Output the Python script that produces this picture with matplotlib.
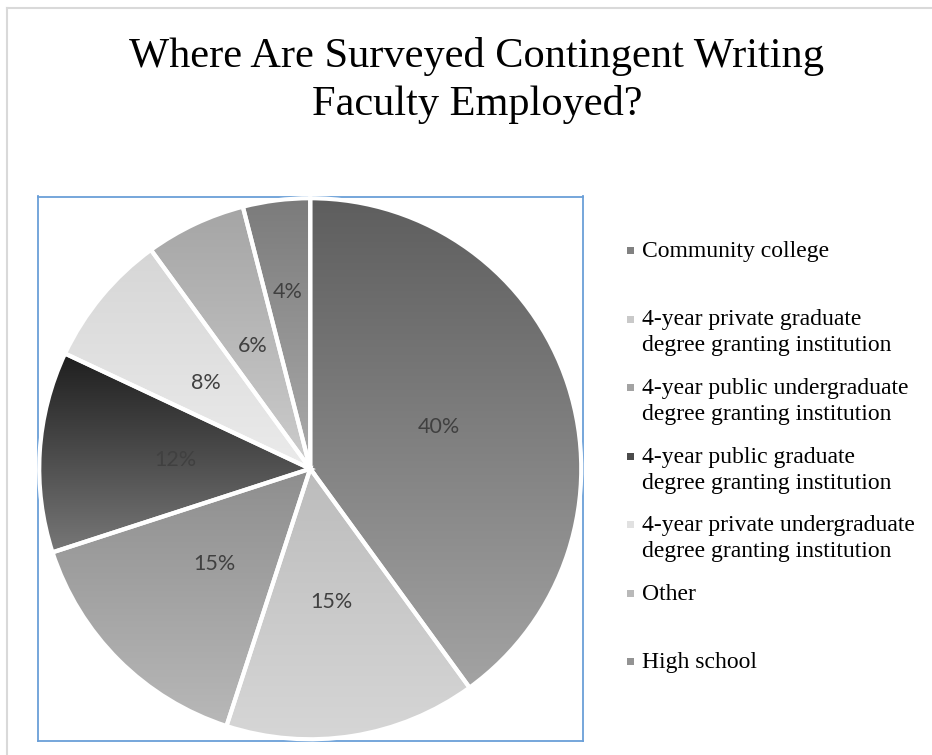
import numpy as np
import matplotlib.pyplot as plt
from matplotlib.colors import LinearSegmentedColormap, to_rgb
from matplotlib.patches import Rectangle
from matplotlib.lines import Line2D

# survey shares, clockwise from 12 o'clock
categories = [
    "Community college",
    "4-year private graduate\ndegree granting institution",
    "4-year public undergraduate\ndegree granting institution",
    "4-year public graduate\ndegree granting institution",
    "4-year private undergraduate\ndegree granting institution",
    "Other",
    "High school",
]
shares = [40, 15, 15, 12, 8, 6, 4]

# each slice is a vertical gradient, darker at the top
top_colors = ["#5e5e5e", "#bcbcbc", "#8e8e8e", "#1e1e1e", "#d6d6d6", "#a5a5a5", "#7b7b7b"]
bottom_colors = ["#a3a3a3", "#d6d6d6", "#b8b8b8", "#777777", "#ebebeb", "#cccccc", "#ababab"]

title_lines = ["Where Are Surveyed Contingent Writing", "Faculty Employed?"]

W, H = 932, 755
fig = plt.figure(figsize=(W / 100, H / 100), dpi=100)


def fx(px):
    return px / W


def fy(py):
    return 1 - py / H


# light chart-area border (top and left edges)
fig.add_artist(Line2D([fx(7), 1], [fy(8), fy(8)], color="#d9d9d9", lw=1.5))
fig.add_artist(Line2D([fx(7), fx(7)], [fy(8), 0], color="#d9d9d9", lw=1.5))

for j, line in enumerate(title_lines):
    fig.text(fx(477), fy(67 + 48 * j), line, ha="center", va="baseline",
             family="Liberation Serif", fontsize=30.5, color="black")

ax = fig.add_axes([fx(37.5), fy(741), (583 - 37.5) / W, (741 - 196.5) / H])
wedges, texts, autotexts = ax.pie(
    shares, startangle=90, counterclock=False, radius=1,
    autopct="%1.0f%%", pctdistance=0.5,
    wedgeprops=dict(edgecolor="white", linewidth=3),
    textprops=dict(family="Lato", fontsize=15.5, color="#404040"),
)

for w, c_top, c_bot in zip(wedges, top_colors, bottom_colors):
    ang = np.radians(np.linspace(w.theta1, w.theta2, 200))
    xs = np.append(np.cos(ang), 0)
    ys = np.append(np.sin(ang), 0)
    cmap = LinearSegmentedColormap.from_list("g", [c_top, c_bot])
    grad = np.linspace(0, 1, 256).reshape(-1, 1)
    im = ax.imshow(grad, cmap=cmap, aspect="auto", origin="upper",
                   extent=[xs.min(), xs.max(), ys.min(), ys.max()], zorder=2)
    im.set_clip_path(w)
    w.set_facecolor("none")
    w.set_zorder(3)

# the thinnest slice gets its label pushed outward
for w, t, s in zip(wedges, autotexts, shares):
    t.set_zorder(4)
    if s < 5:
        mid = np.radians((w.theta1 + w.theta2) / 2)
        t.set_position((0.66 * np.cos(mid), 0.66 * np.sin(mid)))

lim = 272.75 / 271
ax.set_xlim(-lim, lim)
ax.set_ylim(-lim, lim)
ax.set_aspect("auto")
ax.set_frame_on(True)
for sp in ax.spines.values():
    sp.set_color("#6a9fd8")
    sp.set_linewidth(1.3)
ax.set_xticks([])
ax.set_yticks([])

# legend on the right, one slot per category
for i, (label, c_top, c_bot) in enumerate(zip(categories, top_colors, bottom_colors)):
    y = 257 + 68.5 * i
    mid = tuple((np.array(to_rgb(c_top)) + np.array(to_rgb(c_bot))) / 2)
    fig.add_artist(Rectangle((fx(627), fy(y - 3)), 7 / W, 7 / H,
                             facecolor=mid, edgecolor="none"))
    for j, line in enumerate(label.split("\n")):
        fig.text(fx(642), fy(y + 26 * j), line, ha="left", va="baseline",
                 family="Liberation Serif", fontsize=17, color="black")

fig.savefig("out.png", dpi=100, facecolor="white")
